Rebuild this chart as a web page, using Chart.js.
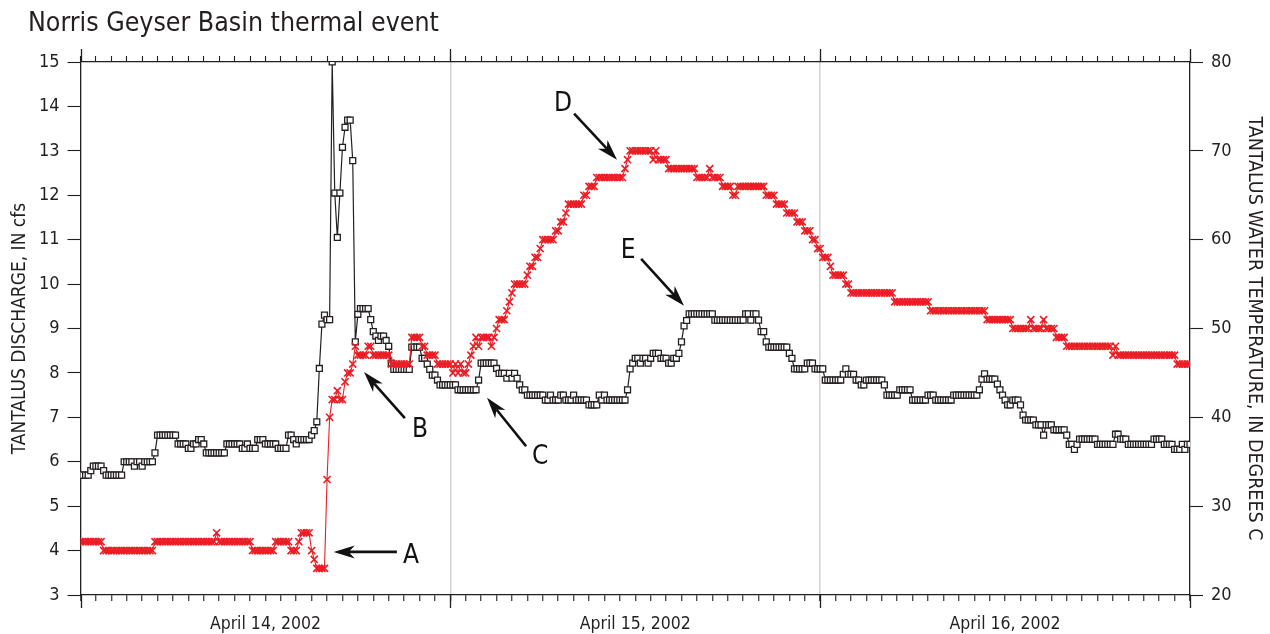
<!DOCTYPE html>
<html><head><meta charset="utf-8">
<script src="https://cdn.jsdelivr.net/npm/chart.js@4.4.1/dist/chart.umd.min.js"></script>
<style>html,body{margin:0;padding:0;background:#fff;}#wrap{position:relative;width:1270px;height:634px;}</style>
</head><body><div id="wrap"><canvas id="c" width="1270" height="634"></canvas></div>
<script>
const FONT = '"Liberation Sans Narrow","DejaVu Sans Condensed","Arial Narrow","Liberation Sans",sans-serif';
const INK = '#231f20';
const RED = '#ec1c24';

const chartTitle = 'Norris Geyser Basin thermal event';
const leftAxisTitle = 'TANTALUS DISCHARGE, IN cfs';
const rightAxisTitle = 'TANTALUS WATER TEMPERATURE, IN DEGREES C';
const dayLabels = ['April 14, 2002', 'April 15, 2002', 'April 16, 2002'];
const readingsPerDay = 144;     // 10-minute readings
const readingsPerHour = 6;
const dischargeTicks = [3, 15, 1];   // min, max, step
const temperatureTicks = [20, 80, 10];

// Tantalus discharge, cfs (10-minute readings from 00:00 April 14)
const discharge = [
5.7,5.7,5.7,5.7,5.8,5.9,5.9,5.9,5.9,5.8,5.7,5.7,5.7,5.7,5.7,5.7,5.7,
6.0,6.0,6.0,6.0,5.9,6.0,6.0,5.9,6.0,6.0,6.0,6.0,6.2,
6.6,6.6,6.6,6.6,6.6,6.6,6.6,6.6,6.4,6.4,6.4,6.4,6.3,6.3,6.4,6.4,6.5,6.5,6.4,
6.2,6.2,6.2,6.2,6.2,6.2,6.2,6.2,6.4,6.4,6.4,6.4,6.4,6.4,6.3,6.3,6.4,6.3,6.3,6.3,
6.5,6.5,6.5,6.4,6.4,6.4,6.4,6.4,6.3,6.3,6.3,6.3,6.6,6.6,6.5,6.4,6.5,6.5,6.5,6.5,6.5,6.6,6.7,6.9,
8.1,9.1,9.3,9.2,9.2,15.0,12.05,11.05,12.05,13.08,13.53,13.69,13.69,12.78,
8.7,9.32,9.45,9.45,9.45,9.45,9.2,8.93,8.83,8.73,8.83,8.83,8.73,8.6,
8.22,8.08,8.08,8.08,8.08,8.08,8.08,8.08,8.58,8.58,8.58,8.58,8.33,8.33,8.2,8.08,7.95,7.95,7.84,
7.73,7.73,7.73,7.73,7.73,7.73,7.73,7.62,7.62,7.62,7.62,7.62,7.62,7.62,7.62,7.84,
8.22,8.22,8.22,8.22,8.22,8.22,8.1,7.99,7.99,7.99,7.88,7.99,7.88,7.99,7.88,7.73,7.62,7.62,
7.5,7.5,7.5,7.5,7.5,7.5,7.5,7.39,7.39,7.5,7.39,7.39,7.39,7.5,7.5,7.39,7.39,7.39,7.5,
7.39,7.39,7.39,7.39,7.39,7.28,7.28,7.28,7.28,7.5,7.39,7.5,7.39,7.39,7.39,7.39,7.39,7.39,7.39,7.39,7.62,8.09,
8.22,8.33,8.33,8.22,8.33,8.33,8.22,8.33,8.44,8.44,8.44,8.33,8.33,8.33,8.22,8.22,8.33,8.33,8.44,8.7,9.06,9.18,
9.33,9.33,9.33,9.33,9.33,9.33,9.33,9.33,9.33,9.33,9.19,9.19,9.19,9.19,9.19,9.19,9.19,9.19,9.19,9.19,9.19,9.19,
9.33,9.33,9.19,9.33,9.33,9.19,8.93,8.93,8.7,8.58,8.58,8.58,8.58,8.58,8.58,8.58,8.58,8.44,8.33,
8.09,8.09,8.09,8.09,8.09,8.22,8.22,8.22,8.09,8.09,8.09,8.09,7.84,7.84,7.84,7.84,7.84,7.84,7.84,
7.97,8.09,7.97,7.97,7.97,7.84,7.84,7.73,7.73,7.84,7.84,7.84,7.84,7.84,7.84,7.84,7.73,
7.5,7.5,7.5,7.5,7.5,7.62,7.62,7.62,7.62,7.62,7.39,7.39,7.39,7.39,7.39,7.39,7.5,7.5,7.5,7.39,7.39,7.39,7.39,7.39,7.39,7.39,
7.5,7.5,7.5,7.5,7.5,7.5,7.5,7.5,7.5,7.5,
7.62,7.86,7.98,7.86,7.86,7.86,7.86,7.75,7.62,7.5,7.39,7.28,7.28,7.39,7.39,7.39,7.28,7.05,
6.94,6.94,6.94,6.94,6.83,6.83,6.83,6.6,6.83,6.83,6.83,6.72,6.72,6.72,6.72,6.72,6.6,
6.39,6.39,6.28,6.39,6.51,6.51,6.51,6.51,6.51,6.51,6.51,6.39,6.39,6.39,6.39,6.39,6.39,6.39,
6.62,6.62,6.51,6.51,6.51,6.39,6.39,6.39,6.39,6.39,6.39,6.39,6.39,6.39,6.39,6.51,6.51,6.51,6.51,6.39,6.39,6.39,6.39,6.28,6.28,6.28,6.39,6.28,6.39,6.39
];

// Tantalus water temperature, degrees C (same 10-minute readings)
const temperature = [
26,26,26,26,26,26,26,26,26,
25,25,25,25,25,25,25,25,25,25,25,25,25,25,25,25,25,25,25,25,
26,26,26,26,26,26,26,26,26,26,26,26,26,26,26,26,26,26,26,26,26,26,26,26,27,
26,26,26,26,26,26,26,26,26,26,26,26,26,
25,25,25,25,25,25,25,25,25,
26,26,26,26,26,26,25,25,25,26,27,27,27,27,25,24,23,23,23,23,33,
40,42,42,43,42,42,44,45,45,46,48,47,47,47,47,48,48,47,47,47,47,47,47,47,
46,46,46,46,46,46,46,46,49,49,49,49,48,48,47,47,47,47,46,46,46,46,46,46,
45,46,45,46,45,45,46,47,48,49,48,49,49,49,49,48,49,50,51,51,51,52,53,54,
55,55,55,55,55,56,57,57,58,58,59,60,60,60,60,60,61,61,62,62,63,64,64,64,64,64,64,65,65,66,66,66,
67,67,67,67,67,67,67,67,67,67,67,68,69,70,70,70,70,70,70,70,70,70,69,70,69,69,69,69,
68,68,68,68,68,68,68,68,68,68,68,67,67,67,67,67,68,67,67,67,67,66,66,66,66,65,65,
66,66,66,66,66,66,66,66,66,66,66,65,65,65,65,64,64,64,64,63,63,63,63,62,62,62,61,61,61,60,60,59,59,58,58,58,57,56,56,56,56,56,55,55,
54,54,54,54,54,54,54,54,54,54,54,54,54,54,54,54,54,
53,53,53,53,53,53,53,53,53,53,53,53,53,53,
52,52,52,52,52,52,52,52,52,52,52,52,52,52,52,52,52,52,52,52,52,52,
51,51,51,51,51,51,51,51,51,51,50,50,50,50,50,50,50,51,50,50,50,50,51,50,50,50,50,49,49,49,49,
48,48,48,48,48,48,48,48,48,48,48,48,48,48,48,48,48,48,47,48,
47,47,47,47,47,47,47,47,47,47,47,47,47,47,47,47,47,47,47,47,47,47,47,
46,46,46,46,46,46
];

// Callout letters with label position, arrow tail and arrow tip in (reading index, cfs)
const calloutLetters = ['A','B','C','D','E'];
const calloutLabelAt = [[128.7,3.88],[132.2,6.72],[179.0,6.11],[187.9,14.06],[213.2,10.75]];
const calloutTail    = [[123.2,3.97],[126.3,6.98],[173.5,6.35],[192.2,13.84],[218.3,10.57]];
const calloutTip     = [[98.6,3.97],[110.4,8.02],[158.3,7.44],[208.9,12.8],[235.0,9.51]];

const nReadings = readingsPerDay * 3;

function arrow(ctx, x1, y1, x2, y2) {
  const a = Math.atan2(y2 - y1, x2 - x1), c = Math.cos(a), s = Math.sin(a);
  const L = 21, W = 6.5, N = 15;
  const bx = x2 - c * N, by = y2 - s * N;
  ctx.beginPath(); ctx.moveTo(x1, y1); ctx.lineTo(bx, by); ctx.lineWidth = 2.6; ctx.stroke();
  ctx.beginPath(); ctx.moveTo(x2, y2);
  ctx.lineTo(x2 - c * L + s * W, y2 - s * L - c * W);
  ctx.lineTo(bx, by);
  ctx.lineTo(x2 - c * L - s * W, y2 - s * L + c * W);
  ctx.closePath(); ctx.fill();
}

const extrasPlugin = {
  id: 'extras',
  afterDraw(chart) {
    const ctx = chart.ctx, xs = chart.scales.x, ys = chart.scales.y, ca = chart.chartArea;
    ctx.save();
    ctx.fillStyle = INK; ctx.font = '26.5px ' + FONT; ctx.textBaseline = 'alphabetic'; ctx.textAlign = 'left';
    ctx.fillText(chartTitle, 28, 31);
    ctx.strokeStyle = INK; ctx.lineWidth = 1.3;
    for (let d = 0; d <= 3; d++) {
      const px = Math.round(xs.getPixelForValue(d * readingsPerDay)) + 0.5;
      ctx.beginPath(); ctx.moveTo(px, ca.bottom); ctx.lineTo(px, ca.bottom + 13);
      ctx.moveTo(px, ca.top); ctx.lineTo(px, ca.top - 13); ctx.stroke();
    }
    ctx.fillStyle = '#111'; ctx.strokeStyle = '#111';
    ctx.font = '26px ' + FONT; ctx.textAlign = 'center'; ctx.textBaseline = 'middle';
    calloutLetters.forEach((t, k) => {
      const L = calloutLabelAt[k], T = calloutTail[k], P = calloutTip[k];
      ctx.fillText(t, xs.getPixelForValue(L[0]), ys.getPixelForValue(L[1]));
      arrow(ctx, xs.getPixelForValue(T[0]), ys.getPixelForValue(T[1]), xs.getPixelForValue(P[0]), ys.getPixelForValue(P[1]));
    });
    ctx.restore();
  }
};

const hourTicks = (scale) => {
  const t = [];
  for (let v = 0; v <= nReadings; v += readingsPerHour) t.push({ value: v });
  scale.ticks = t;
};
const dayLabel = (v) => {
  const d = Math.floor(v / readingsPerDay);
  return (v % readingsPerDay === readingsPerDay / 2 && d < dayLabels.length) ? dayLabels[d] : '';
};

Chart.defaults.font.family = FONT;
Chart.defaults.color = INK;

new Chart(document.getElementById('c'), {
  type: 'line',
  data: {
    datasets: [
      {
        label: 'Temperature', yAxisID: 'y2', xAxisID: 'x',
        data: temperature.map((v, i) => ({ x: i, y: v })),
        borderColor: RED, borderWidth: 1.1, pointStyle: 'crossRot', pointRadius: 5,
        pointBorderColor: RED, pointBackgroundColor: RED, pointBorderWidth: 1.6, tension: 0, fill: false
      },
      {
        label: 'Discharge', yAxisID: 'y', xAxisID: 'x',
        data: discharge.map((v, i) => ({ x: i, y: v })),
        borderColor: INK, borderWidth: 1.2, pointStyle: 'rect', pointRadius: 4.2,
        pointBorderColor: INK, pointBackgroundColor: '#fff', pointBorderWidth: 1.3, tension: 0, fill: false
      }
    ]
  },
  options: {
    responsive: false, animation: false, devicePixelRatio: 1,
    layout: { padding: 0 },
    plugins: { legend: { display: false }, tooltip: { enabled: false }, title: { display: false } },
    scales: {
      x: {
        type: 'linear', position: 'bottom', min: 0, max: nReadings,
        afterBuildTicks: hourTicks,
        ticks: { autoSkip: false, maxRotation: 0, minRotation: 0, callback: dayLabel, font: { size: 17.5 }, color: INK, padding: 13 },
        grid: {
          drawOnChartArea: true, tickLength: 6, tickColor: INK, tickWidth: 1.1, lineWidth: 1.5,
          color: (c) => (c.tick && c.tick.value % readingsPerDay === 0 && c.tick.value > 0 && c.tick.value < nReadings) ? '#d2d2d2' : 'rgba(0,0,0,0)'
        },
        border: { display: true, color: INK, width: 1.3 },
        afterFit: (s) => { s.height = 39; }
      },
      xTop: {
        type: 'linear', position: 'top', min: 0, max: nReadings,
        afterBuildTicks: hourTicks,
        ticks: { autoSkip: false, maxRotation: 0, callback: () => '', font: { size: 1 }, padding: 0 },
        grid: { drawOnChartArea: false, tickLength: 6, tickColor: INK, tickWidth: 1.1 },
        border: { display: true, color: INK, width: 1.3 },
        afterFit: (s) => { s.height = 62; }
      },
      y: {
        position: 'left', min: dischargeTicks[0], max: dischargeTicks[1],
        ticks: { stepSize: dischargeTicks[2], font: { size: 18 }, color: INK, padding: 8 },
        grid: { drawOnChartArea: false, tickLength: 13, tickColor: INK, tickWidth: 1.1 },
        border: { display: true, color: INK, width: 1.3 },
        title: { display: true, text: leftAxisTitle, font: { size: 19 }, color: INK, padding: { top: 9, bottom: 0 } },
        afterFit: (s) => { s.width = 80.5; }
      },
      y2: {
        position: 'right', min: temperatureTicks[0], max: temperatureTicks[1],
        ticks: { stepSize: temperatureTicks[2], font: { size: 18 }, color: INK, padding: 8 },
        grid: { drawOnChartArea: false, tickLength: 13, tickColor: INK, tickWidth: 1.1 },
        border: { display: true, color: INK, width: 1.3 },
        title: { display: true, text: rightAxisTitle, font: { size: 19.5 }, color: INK, padding: { top: 4, bottom: 0 } },
        afterFit: (s) => { s.width = 80; }
      }
    }
  },
  plugins: [extrasPlugin]
});
</script>
</body></html>
